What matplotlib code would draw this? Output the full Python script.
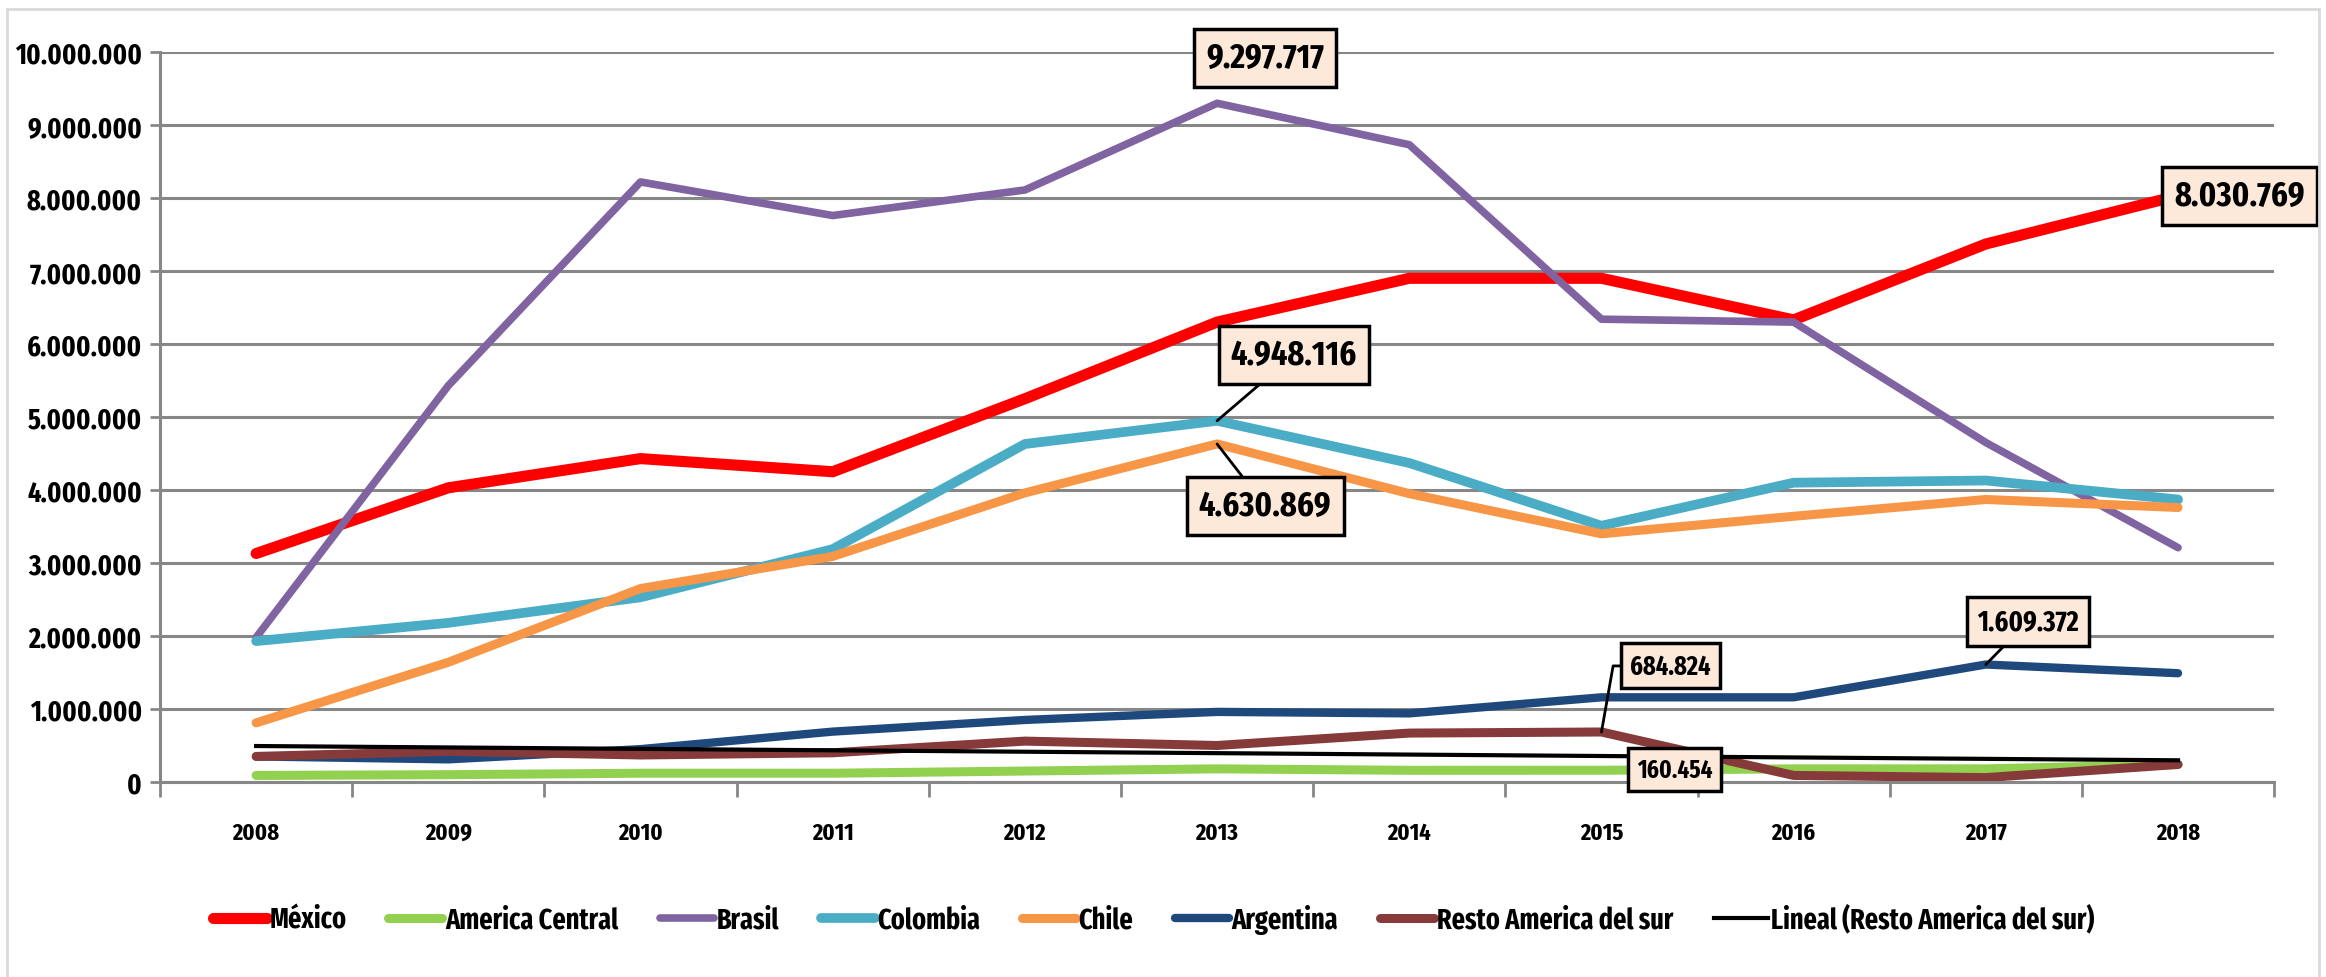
import matplotlib
matplotlib.use("Agg")
import matplotlib.pyplot as plt
import matplotlib.ticker as ticker
import numpy as np
from matplotlib.patches import Rectangle

plt.rcParams["font.family"] = ["Fira Sans Extra Condensed", "DejaVu Sans"]
plt.rcParams["font.weight"] = "bold"

YEARS = ["2008", "2009", "2010", "2011", "2012", "2013", "2014", "2015", "2016", "2017", "2018"]

MEXICO = [3130000, 4030000, 4430000, 4250000, 5250000, 6300000, 6900000, 6900000, 6330000, 7370000, 8030769]
AMERICA_CENTRAL = [90000, 100000, 120000, 120000, 150000, 180000, 160000, 160454, 180000, 180000, 240000]
BRASIL = [1980000, 5430000, 8220000, 7760000, 8110000, 9297717, 8730000, 6340000, 6300000, 4650000, 3210000]
COLOMBIA = [1930000, 2180000, 2530000, 3190000, 4630000, 4948116, 4370000, 3510000, 4100000, 4130000, 3870000]
CHILE = [810000, 1640000, 2650000, 3090000, 3960000, 4630869, 3950000, 3400000, 3640000, 3870000, 3760000]
ARGENTINA = [350000, 310000, 450000, 690000, 850000, 960000, 940000, 1160000, 1160000, 1609372, 1490000]
RESTO = [350000, 420000, 370000, 400000, 560000, 500000, 670000, 684824, 90000, 60000, 240000]

SERIES = [
    ("México", MEXICO, "#FF0000", 8),
    ("America Central", AMERICA_CENTRAL, "#92D050", 6.5),
    ("Brasil", BRASIL, "#8064A2", 5.5),
    ("Colombia", COLOMBIA, "#4BACC6", 7),
    ("Chile", CHILE, "#F79646", 6.5),
    ("Argentina", ARGENTINA, "#1F497D", 6),
    ("Resto America del sur", RESTO, "#863A39", 6.5),
]


def fmt_dots(v, _=None):
    return f"{v:,.0f}".replace(",", ".")


fig = plt.figure(figsize=(23.26, 9.78), dpi=100)
fig.patches.append(Rectangle((0.003, -0.01), 0.994, 1.0, transform=fig.transFigure,
                             fill=False, edgecolor="#D9D9D9", linewidth=2))
ax = fig.add_axes([0.0688, 0.1994, 0.9089, 0.7464])

x = np.arange(len(YEARS))
for name, vals, color, lw in SERIES:
    ax.plot(x, vals, color=color, linewidth=lw, label=name, solid_capstyle="round")

# linear trend of "Resto America del sur"
slope, icpt = np.polyfit(x, RESTO, 1)
ax.plot(x, slope * x + icpt, color="black", linewidth=3, label="Lineal (Resto America del sur)")

ax.set_xlim(-0.5, len(YEARS) - 0.5)
ax.set_ylim(0, 10000000)
ax.yaxis.set_major_locator(ticker.MultipleLocator(1000000))
ax.yaxis.set_major_formatter(ticker.FuncFormatter(fmt_dots))
ax.set_xticks(x)
ax.set_xticklabels(YEARS)
ax.set_xticks(np.arange(-0.5, len(YEARS)), minor=True)

ax.grid(axis="y", color="#878787", linewidth=2.2)
ax.set_axisbelow(True)
for s in ("top", "right"):
    ax.spines[s].set_visible(False)
for s in ("left", "bottom"):
    ax.spines[s].set_color("#878787")
    ax.spines[s].set_linewidth(2.2)

ax.tick_params(axis="y", length=7, width=2, color="#878787", labelsize=20.5, pad=6)
ax.tick_params(axis="x", which="major", length=0, labelsize=17.5, pad=28)
ax.tick_params(axis="x", which="minor", length=11, width=2, color="#878787")
for lbl in ax.get_yticklabels() + ax.get_xticklabels():
    lbl.set_fontweight("bold")

box = dict(boxstyle="square,pad=0.35", facecolor="#FDE9D9", edgecolor="black", linewidth=2.5)
line = dict(arrowstyle="-", color="black", linewidth=2, shrinkA=0, shrinkB=0)

# (series, index, text position, font size, leader style)
notes = [
    (BRASIL, 5, (5.25, 9920000), 25, None),
    (COLOMBIA, 5, (5.40, 5850000), 25, "arc3"),
    (CHILE, 5, (5.25, 3780000), 25, "arc3"),
    (MEXICO, 10, (10.32, 8030769), 25, None),
    (ARGENTINA, 9, (9.22, 2200000), 20.5, "arc3"),
    (RESTO, 7, (7.36, 1590000), 19, "angle,angleA=0,angleB=80,rad=0"),
    (AMERICA_CENTRAL, 7, (7.38, 170000), 18, None),
]
for vals, i, pos, size, conn in notes:
    props = None
    if conn is not None:
        props = dict(line, connectionstyle=conn)
        if conn.startswith("angle"):
            props["relpos"] = (0, 0.5)
    ax.annotate(fmt_dots(vals[i]), xy=(i, vals[i]), xytext=pos, textcoords="data",
                ha="center", va="center", fontsize=size, fontweight="bold",
                bbox=box, arrowprops=props, zorder=5)

fig.legend(loc="center", bbox_to_anchor=(0.496, 0.059), ncol=8, frameon=False,
           prop={"size": 20.5, "weight": "bold"}, handlelength=1.9, handletextpad=0.1,
           columnspacing=1.45)

fig.savefig("out.png", dpi=100)
